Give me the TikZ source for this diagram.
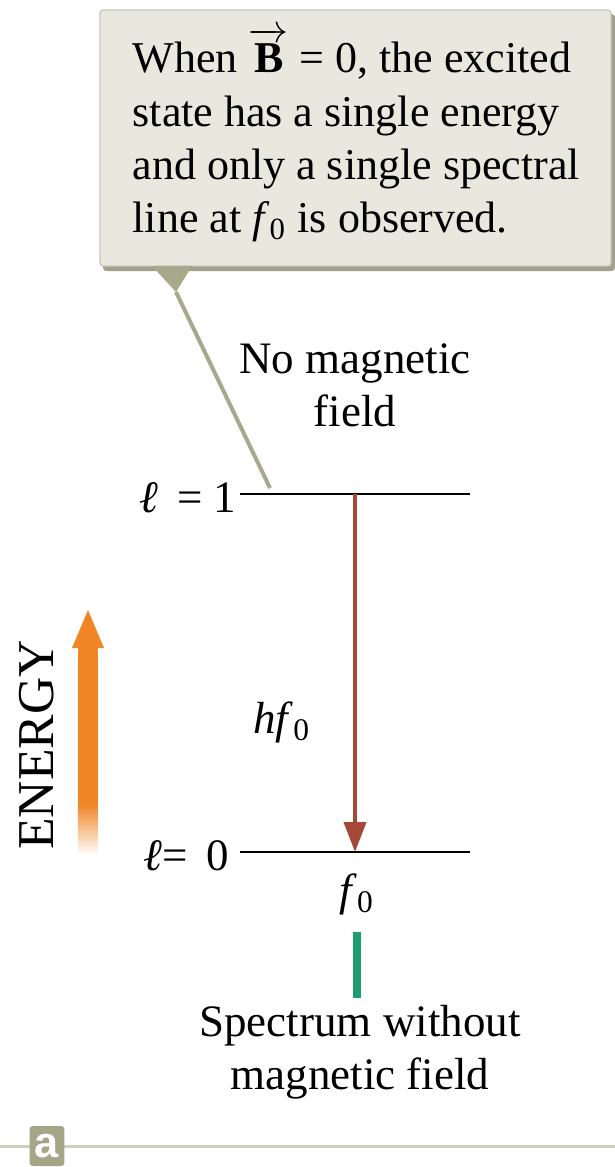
\documentclass[tikz,border=0pt]{standalone}
\usepackage{fontspec}
\setmainfont{Liberation Serif}
\newfontfamily\labelsans{Liberation Sans}
\usetikzlibrary{positioning,arrows.meta,calc}
\definecolor{NoteFill}{RGB}{232,232,222}
\definecolor{NoteEdge}{RGB}{200,200,190}
\definecolor{NoteShade}{RGB}{162,162,140}
\definecolor{PointerOlive}{RGB}{168,168,138}
\definecolor{TransRed}{RGB}{164,72,58}
\definecolor{EnergyOrange}{RGB}{240,133,38}
\definecolor{LineGreen}{RGB}{30,158,110}
\definecolor{PanelRule}{RGB}{207,207,192}
\definecolor{PanelTag}{RGB}{165,165,136}

\begin{document}
\begin{tikzpicture}[x=0.3pt, y=-0.3pt, font=\fontsize{13.5}{16}\selectfont]
\tikzset{
  txt/.style={inner sep=0pt, align=center},
  level/.style={line width=0.6pt, black},
  trans/.style={-{Triangle[width=6.6pt, length=9pt]}, line width=1.2pt, TransRed}
}
  \useasboundingbox (0,0) rectangle (615,1167);

  % callout
  \fill[NoteShade, rounded corners=1pt] (103,14) rectangle (615,271);
  \draw[NoteEdge, fill=NoteFill, rounded corners=1pt] (100,10) rectangle (611,266);
  \node[txt, align=left, anchor=north west, font=\fontsize{13.2}{16}\selectfont] (note) at (132,27)
    {When $\overrightarrow{\raisebox{0pt}[\dimexpr\height+1.5pt]{\textbf{B}}}$ = 0, the excited\\state has a single energy\\and only a single spectral\\line at \textit{f}\textsubscript{0} is observed.};

  % levels
  \coordinate (up1) at (240,494);
  \coordinate (up2) at (470,494);
  \coordinate (lo1) at (240,852);
  \coordinate (lo2) at (470,852);
  \draw[level] (up1) -- (up2);
  \draw[level] (lo1) -- (lo2);
  \node[txt, anchor=east] (lone) at (237,498) {\textit{ℓ}\, = 1};
  \node[txt, anchor=east] (lzero) at (230,856) {\textit{ℓ}= \,0};
  \node[txt] (nofield) at (355,385) {No magnetic\\field};

  % pointer
  \coordinate (tipA) at (152,266);
  \coordinate (tipB) at (192,266);
  \coordinate (tipC) at (176,292);
  \coordinate (pend) at (270,488);
  \fill[PointerOlive] (tipA) -- (tipB) -- (tipC) -- cycle;
  \draw[PointerOlive, line width=1.2pt] (tipC) -- (pend);

  % transition
  \coordinate (tup) at (355,494);
  \coordinate (tlo) at (355,852);
  \draw[trans] (tup) -- (tlo);
  \node[txt] (hf) at (282,722) {\textit{hf}\textsubscript{0}};

  % energy arrow
  \fill[EnergyOrange] (78,647) rectangle (98,805);
  \shade[top color=EnergyOrange, bottom color=white] (78,804) rectangle (98,855);
  \fill[EnergyOrange] (72,648) -- (104,648) -- (88,610) -- cycle;
  \node[txt, rotate=90, font=\fontsize{15.5}{16}\selectfont] (energy) at (37,745) {ENERGY};

  % spectrum
  \node[txt] (fzero) at (357,894) {\textit{f}\textsubscript{0}};
  \coordinate (g1) at (357,932);
  \coordinate (g2) at (357,998);
  \draw[LineGreen, line width=2.4pt] (g1) -- (g2);
  \node[txt] (spec) at (360,1052) {Spectrum without\\magnetic field};

  % panel tag
  \draw[PanelRule, line width=0.9pt] (0,1146) -- (615,1146);
  \node[fill=PanelTag, rounded corners=1pt, minimum width=10.5pt, minimum height=12pt, inner sep=0pt,
        text=white, font=\labelsans\bfseries\fontsize{13}{13}\selectfont] (tag) at (47,1146) {a};
\end{tikzpicture}
\end{document}
